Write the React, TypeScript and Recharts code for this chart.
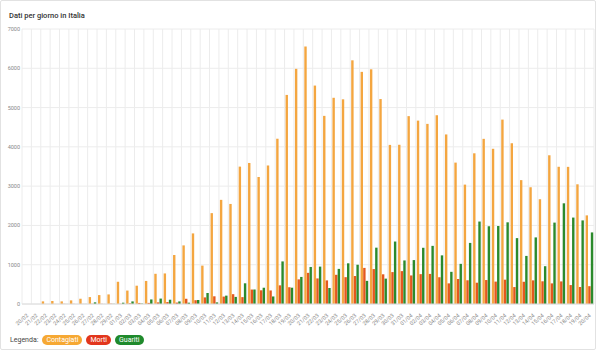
import React from "react";
import { BarChart, Bar, XAxis, YAxis, CartesianGrid } from "recharts";

const giorni = [
  "20/02", "21/02", "22/02", "23/02", "24/02", "25/02", "26/02", "27/02", "28/02", "29/02",
  "01/03", "02/03", "03/03", "04/03", "05/03", "06/03", "07/03", "08/03", "09/03", "10/03",
  "11/03", "12/03", "13/03", "14/03", "15/03", "16/03", "17/03", "18/03", "19/03", "20/03",
  "21/03", "22/03", "23/03", "24/03", "25/03", "26/03", "27/03", "28/03", "29/03", "30/03",
  "31/03", "01/04", "02/04", "03/04", "04/04", "05/04", "06/04", "07/04", "08/04", "09/04",
  "10/04", "11/04", "12/04", "13/04", "14/04", "15/04", "16/04", "17/04", "18/04", "19/04",
  "20/04",
];

const contagiati = [
  0, 0, 67, 76, 67, 92, 134, 176, 227, 244,
  566, 342, 466, 587, 769, 778, 1247, 1492, 1797, 977,
  2313, 2651, 2547, 3497, 3590, 3233, 3526, 4207, 5322, 5986,
  6557, 5560, 4789, 5249, 5210, 6203, 5909, 5974, 5217, 4050,
  4053, 4782, 4668, 4585, 4805, 4316, 3599, 3039, 3836, 4204,
  3951, 4694, 4092, 3153, 2972, 2667, 3786, 3493, 3491, 3047,
  2256,
];

const morti = [
  0, 0, 1, 1, 4, 3, 2, 5, 4, 8,
  5, 18, 27, 28, 41, 49, 36, 133, 97, 168,
  196, 189, 250, 175, 368, 349, 345, 475, 427, 627,
  793, 651, 601, 743, 683, 712, 919, 889, 756, 812,
  837, 727, 760, 766, 681, 525, 636, 604, 542, 610,
  570, 619, 431, 566, 602, 578, 525, 575, 482, 433,
  454,
];

const guariti = [
  0, 0, 0, 0, 1, 0, 2, 42, 1, 4,
  33, 66, 11, 116, 138, 109, 66, 33, 102, 280,
  41, 213, 181, 527, 369, 414, 192, 1084, 415, 689,
  943, 952, 408, 894, 1036, 999, 589, 1434, 646, 1590,
  1109, 1118, 1431, 1480, 1238, 819, 1022, 1555, 2099, 1979,
  1985, 2079, 1677, 1224, 1695, 962, 2072, 2563, 2200, 2128,
  1822,
];

const yTicks = [0, 1000, 2000, 3000, 4000, 5000, 6000, 7000];

const data = giorni.map((g, i) => ({
  giorno: g,
  contagiati: contagiati[i],
  morti: morti[i],
  guariti: guariti[i],
}));

const FONT = "Roboto, 'Liberation Sans', Arial, sans-serif";

const GiornoTick = (props: any) => {
  const { x, y, payload } = props;
  return (
    <text
      x={x + 2}
      y={y + 4}
      transform={`rotate(-42, ${x + 2}, ${y + 4})`}
      textAnchor="end"
      fontSize={5.5}
      fill="#888"
      fontFamily={FONT}
    >
      {payload.value}
    </text>
  );
};

const pill = (bg: string) => ({
  display: "inline-block",
  background: bg,
  color: "#fff",
  borderRadius: 5,
  padding: "0 4px",
  height: 10,
  lineHeight: "10px",
  fontSize: 7,
  marginLeft: 4,
});

export default function App() {
  return (
    <div
      style={{
        position: "absolute",
        left: 0,
        top: 0,
        width: 594,
        height: 348,
        border: "1px solid #e2e2e2",
        borderRadius: 2,
        background: "#fff",
        fontFamily: FONT,
      }}
    >
      <div
        style={{
          position: "absolute",
          left: 8,
          top: 10,
          fontSize: 7.5,
          fontWeight: 500,
          color: "#333",
        }}
      >
        Dati per giorno in Italia
      </div>
      <div style={{ position: "absolute", left: -1, top: -1 }}>
        <BarChart
          width={596}
          height={330}
          data={data}
          margin={{ top: 29, right: 2, bottom: 0, left: 0 }}
          barCategoryGap="10%"
          barGap={0.2}
        >
          <CartesianGrid
            stroke="#ececec"
            verticalCoordinatesGenerator={({ offset }: any) =>
              Array.from({ length: giorni.length + 1 }, (_, i) => offset.left + (i * offset.width) / giorni.length)
            }
          />
          <XAxis
            dataKey="giorno"
            interval={0}
            tick={<GiornoTick />}
            tickLine={false}
            axisLine={{ stroke: "#dcdcdc" }}
            height={26}
          />
          <YAxis
            domain={[0, 7000]}
            ticks={yTicks}
            width={22}
            tickSize={0}
            tickMargin={2}
            axisLine={false}
            tick={{ fontSize: 5.5, fill: "#888", fontFamily: FONT }}
          />
          <Bar dataKey="contagiati" fill="#F4A640" barSize={2.4} isAnimationActive={false} />
          <Bar dataKey="morti" fill="#E4581F" barSize={2.4} isAnimationActive={false} />
          <Bar dataKey="guariti" fill="#2B8A2C" barSize={2.4} isAnimationActive={false} />
        </BarChart>
      </div>
      <div
        style={{
          position: "absolute",
          left: 9,
          top: 334,
          fontSize: 7,
          color: "#444",
          display: "flex",
          alignItems: "center",
        }}
      >
        <span>Legenda:</span>
        <span style={pill("#F6A833")}>Contagiati</span>
        <span style={pill("#E2361D")}>Morti</span>
        <span style={pill("#1F8A2C")}>Guariti</span>
      </div>
    </div>
  );
}
